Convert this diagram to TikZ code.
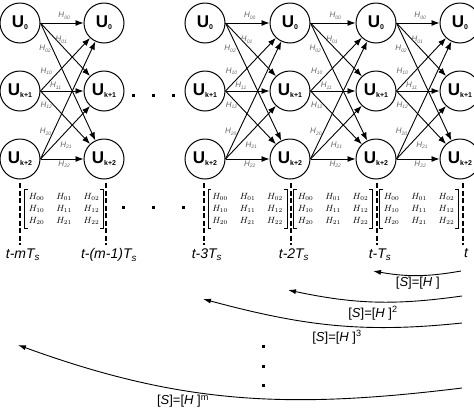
\documentclass[tikz,border=0pt]{standalone}
\usepackage[no-math]{fontspec}
\setmainfont{Liberation Sans}
\usetikzlibrary{arrows.meta,positioning,calc}

\newcommand{\ulab}[1]{{\fontsize{17}{17}\selectfont\bfseries U}{\fontsize{7}{7}\selectfont\bfseries\raisebox{-2pt}{#1}}}
\newcommand{\hlab}[1]{H{\fontsize{5}{5}\selectfont\raisebox{-1.5pt}{#1}}}
\newcommand{\hmat}{\fontsize{9}{12}\selectfont\setlength{\arraycolsep}{6pt}%
$\begin{array}{@{}ccc@{}}H_{00}&H_{01}&H_{02}\\H_{10}&H_{11}&H_{12}\\H_{20}&H_{21}&H_{22}\end{array}$}
\newcommand{\slab}[1]{[\textit{S}]=[\textit{H}\ ]\textsuperscript{#1}}

\begin{document}
\begin{tikzpicture}[
x=1pt, y=1pt,
unode/.style={circle, draw, line width=1pt, minimum size=40pt, inner sep=0pt},
edge/.style={line width=0.9pt, arrows={-Latex[length=8pt,width=6pt]}},
hlabel/.style={font=\fontsize{8}{8}\selectfont\itshape, text=black!60, inner sep=1.5pt},
hmatrix/.style={inner xsep=4pt, inner ysep=1.5pt},
mbracket/.style={line width=0.8pt},
tline/.style={line width=1.6pt, dash pattern=on 5pt off 2.5pt},
tlabel/.style={font=\fontsize{14}{14}\selectfont\itshape, inner sep=0pt},
slabel/.style={font=\fontsize{13}{13}\selectfont, inner sep=0pt},
sarrow/.style={line width=0.9pt, arrows={-Latex[length=8pt,width=5pt]}},
dotnode/.style={fill, minimum size=3pt, inner sep=0pt}]
\useasboundingbox (0,0) rectangle (474,-408);
% Nodes
\node[unode] (u10) at (20,-23) {\ulab{0}};
\node[unode] (u11) [below=27pt of u10] {\ulab{k+1}};
\node[unode] (u12) [below=27pt of u11] {\ulab{k+2}};
\node[unode] (u20) [right=43pt of u10] {\ulab{0}};
\node[unode] (u21) [below=27pt of u20] {\ulab{k+1}};
\node[unode] (u22) [below=27pt of u21] {\ulab{k+2}};
\node[unode] (u30) [right=60pt of u20] {\ulab{0}};
\node[unode] (u31) [below=27pt of u30] {\ulab{k+1}};
\node[unode] (u32) [below=27pt of u31] {\ulab{k+2}};
\node[unode] (u40) [right=44pt of u30] {\ulab{0}};
\node[unode] (u41) [below=27pt of u40] {\ulab{k+1}};
\node[unode] (u42) [below=27pt of u41] {\ulab{k+2}};
\node[unode] (u50) [right=45pt of u40] {\ulab{0}};
\node[unode] (u51) [below=27pt of u50] {\ulab{k+1}};
\node[unode] (u52) [below=27pt of u51] {\ulab{k+2}};
\node[unode] (u60) [right=43pt of u50] {\ulab{0}};
\node[unode] (u61) [below=27pt of u60] {\ulab{k+1}};
\node[unode] (u62) [below=27pt of u61] {\ulab{k+2}};
\foreach \x [count=\i] in {133,153,173} \node[dotnode] (gd\i) at (\x,-95) {};
% Matrices
\node[hmatrix] (m1) at ($(u12)!.5!(u22)+(2,-50)$) {\hmat};
\node[hmatrix] (m2) at ($(u32)!.5!(u42)+(0,-50)$) {\hmat};
\node[hmatrix] (m3) at ($(u42)!.5!(u52)+(0,-50)$) {\hmat};
\node[hmatrix] (m4) at ($(u52)!.5!(u62)+(1,-50)$) {\hmat};
\foreach \m in {1,...,4} {
  \draw[mbracket] ([xshift=3pt]m\m.north west) -- (m\m.north west) -- (m\m.south west) -- ([xshift=3pt]m\m.south west);
  \draw[mbracket] ([xshift=-3pt]m\m.north east) -- (m\m.north east) -- (m\m.south east) -- ([xshift=-3pt]m\m.south east);
}
\foreach \x [count=\i] in {123,153,183} \node[dotnode] (md\i) at (\x,-207) {};
% Lines
\foreach \s/\t in {1/2,3/4,4/5,5/6} {
  \draw[edge] (u\s0.east) -- node[hlabel, pos=.55, above=2pt] {\hlab{00}} (u\t0);
  \draw[edge] (u\s0.east) -- node[hlabel, pos=.42, above] {\hlab{01}} (u\t1);
  \draw[edge] (u\s0.east) -- node[hlabel, pos=.22, left] {\hlab{02}} (u\t2);
  \draw[edge] (u\s1.east) -- node[hlabel, pos=.27, above left] {\hlab{10}} (u\t0);
  \draw[edge] (u\s1.east) -- node[hlabel, pos=.35, above] {\hlab{11}} (u\t1);
  \draw[edge] (u\s1.east) -- node[hlabel, pos=.27, left] {\hlab{12}} (u\t2);
  \draw[edge] (u\s2.east) -- node[hlabel, pos=.23, left] {\hlab{20}} (u\t0);
  \draw[edge] (u\s2.east) -- node[hlabel, pos=.36, below right] {\hlab{21}} (u\t1);
  \draw[edge] (u\s2.east) -- node[hlabel, pos=.55, below] {\hlab{22}} (u\t2);
}
% Time axis
\foreach \c/\dx/\txt in {1/0/{t-mT\textsubscript{s}}, 2/2/{t-(m-1)T\textsubscript{s}}, 3/-1/{t-3T\textsubscript{s}},
                     4/1/{t-2T\textsubscript{s}}, 5/1/{t-T\textsubscript{s}}, 6/3/{t}}
  \draw[tline] ([xshift=\dx pt]u\c2 |- 0,-183) -- ([xshift=\dx pt]u\c2 |- 0,-245)
    node[tlabel, below=3pt, xshift=3pt] (t\c) {\txt};
% Curves
\coordinate (s1) at (461,-271); \coordinate (e1) at (373,-271);
\coordinate (s2) at (462,-296); \coordinate (e2) at (288,-290);
\coordinate (s3) at (462,-323); \coordinate (e3) at (203,-299);
\coordinate (s4) at (462,-388); \coordinate (e4) at (18,-345);
\draw[sarrow] (s1) to[out=190, in=-10] (e1);
\draw[sarrow] (s2) to[out=188, in=-12] (e2);
\draw[sarrow] (s3) to[out=186, in=-15] (e3);
\draw[sarrow] (s4) to[out=187, in=-20] (e4);
\node[slabel] (l1) at (418,-283) {\slab{}};
\node[slabel] (l2) at (373,-313) {\slab{2}};
\node[slabel] (l3) at (337,-337) {\slab{3}};
\node[slabel] (l4) at (183,-401) {\slab{m}};
\foreach \y [count=\i] in {346,366,385} \node[dotnode] (vd\i) at (263,-\y) {};
\end{tikzpicture}
\end{document}
